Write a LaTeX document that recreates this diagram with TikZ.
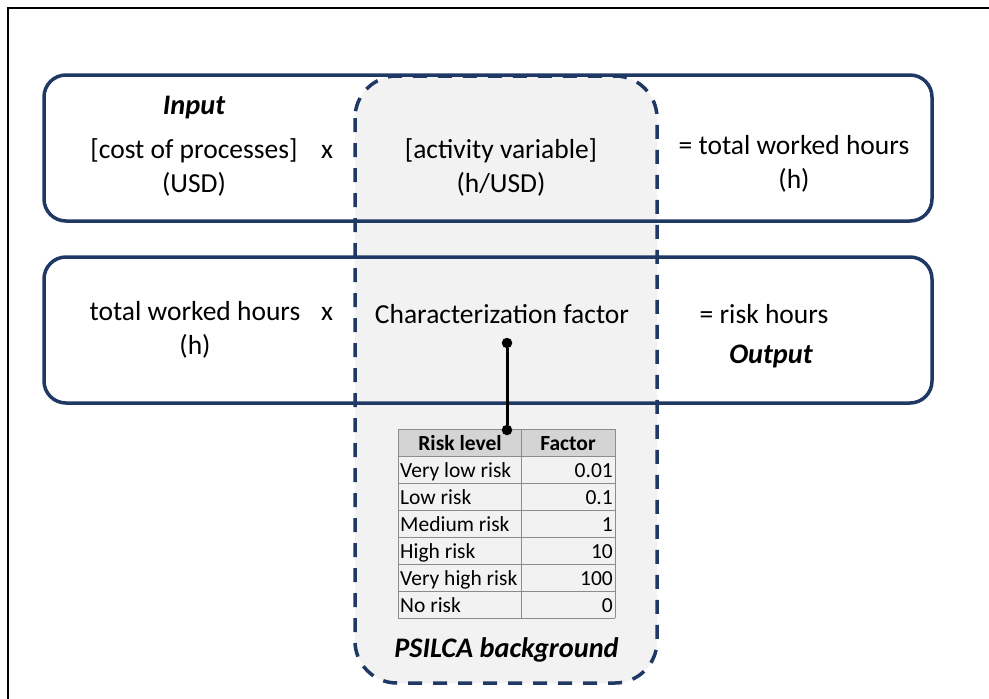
\documentclass[tikz,border=0pt]{standalone}
\usepackage{fontspec}
\setmainfont{Carlito}
\usetikzlibrary{positioning,arrows.meta,calc}
\definecolor{navy}{HTML}{1F3864}
\definecolor{bggray}{HTML}{F2F2F2}
\definecolor{hdrgray}{HTML}{D4D4D4}
\definecolor{gridgray}{HTML}{8C8C8C}

\begin{document}
\begin{tikzpicture}[x=1pt,y=-1pt,
    txt/.style={font=\fontsize{27.5}{34}\selectfont, align=center, inner sep=0pt},
    tag/.style={font=\fontsize{28.3}{34}\selectfont\bfseries\itshape, inner sep=0pt},
    cell/.style={font=\fontsize{21.5}{26}\selectfont, inner sep=0pt},
    calcbox/.style={draw=navy, line width=3.5pt, rounded corners=22pt},
    pin/.style={circle, fill=black, inner sep=0pt, minimum size=10.5pt},
  ]
    \useasboundingbox (0,0) rectangle (989,699);
    \clip (0,0) rectangle (989,699);

    % Outer frame
    \draw[line width=2pt] (7.5,7.5) rectangle (1010,720);

    % PSILCA background area
    \fill[bggray, rounded corners=42pt] (355,76) rectangle (657,683);

    % Calculation rows
    \draw[calcbox] (44,75) rectangle (932,221);
    \draw[calcbox] (44,257) rectangle (932,403);
    \draw[navy, line width=3.5pt, dash pattern=on 14pt off 11pt,
      rounded corners=42pt] (355,76) rectangle (657,683);

    % First row
    \node[tag, anchor=base] (input) at (194,114) {Input};
    \node[txt] (cost) at (194,167) {[cost of processes]\\(USD)};
    \node[txt, anchor=base] (times1) at (327,158) {x};
    \node[txt] (activity) at (501,167) {[activity variable]\\(h/USD)};
    \node[txt] (hours1) at (794,164) {= total worked hours\\(h)};

    % Second row
    \node[txt] (hours2) at (195,330) {total worked hours\\(h)};
    \node[txt, anchor=base] (times2) at (327,320) {x};
    \node[txt, anchor=base] (charfac) at (502,323) {Characterization factor};
    \node[txt, anchor=base] (risk) at (764,323) {= risk hours};
    \node[tag, anchor=base] (output) at (771,363) {Output};

    % Table of factors
    \fill[hdrgray] (398,429) rectangle (615,456);
    \foreach \r in {0,...,7}
      \draw[gridgray, line width=1pt] (398,429+27*\r) -- (615,429+27*\r);
    \foreach \c in {398,521,615}
      \draw[gridgray, line width=1pt] (\c,429) -- (\c,618);
    \node[cell, font=\fontsize{21.5}{26}\selectfont\bfseries, anchor=base]
      (hdrlevel) at (460,450) {Risk level};
    \node[cell, font=\fontsize{21.5}{26}\selectfont\bfseries, anchor=base]
      (hdrfactor) at (568,450) {Factor};
    \foreach \lvl/\fac [count=\i] in {Very low risk/0.01, Low risk/0.1,
        Medium risk/1, High risk/10, Very high risk/100, No risk/0} {
      \node[cell, anchor=base west] (lvl\i) at (400,450+27*\i) {\lvl};
      \node[cell, anchor=base east] (fac\i) at (613,450+27*\i) {\fac};
    }

    % Link from factor to table
    \node[pin] (cfpin) at (507,343) {};
    \node[pin] (tabpin) at (507,430) {};
    \draw[line width=3pt] (cfpin) -- (tabpin);

    \node[tag, anchor=base] (psilca) at (506.5,657) {PSILCA background};
\end{tikzpicture}
\end{document}
